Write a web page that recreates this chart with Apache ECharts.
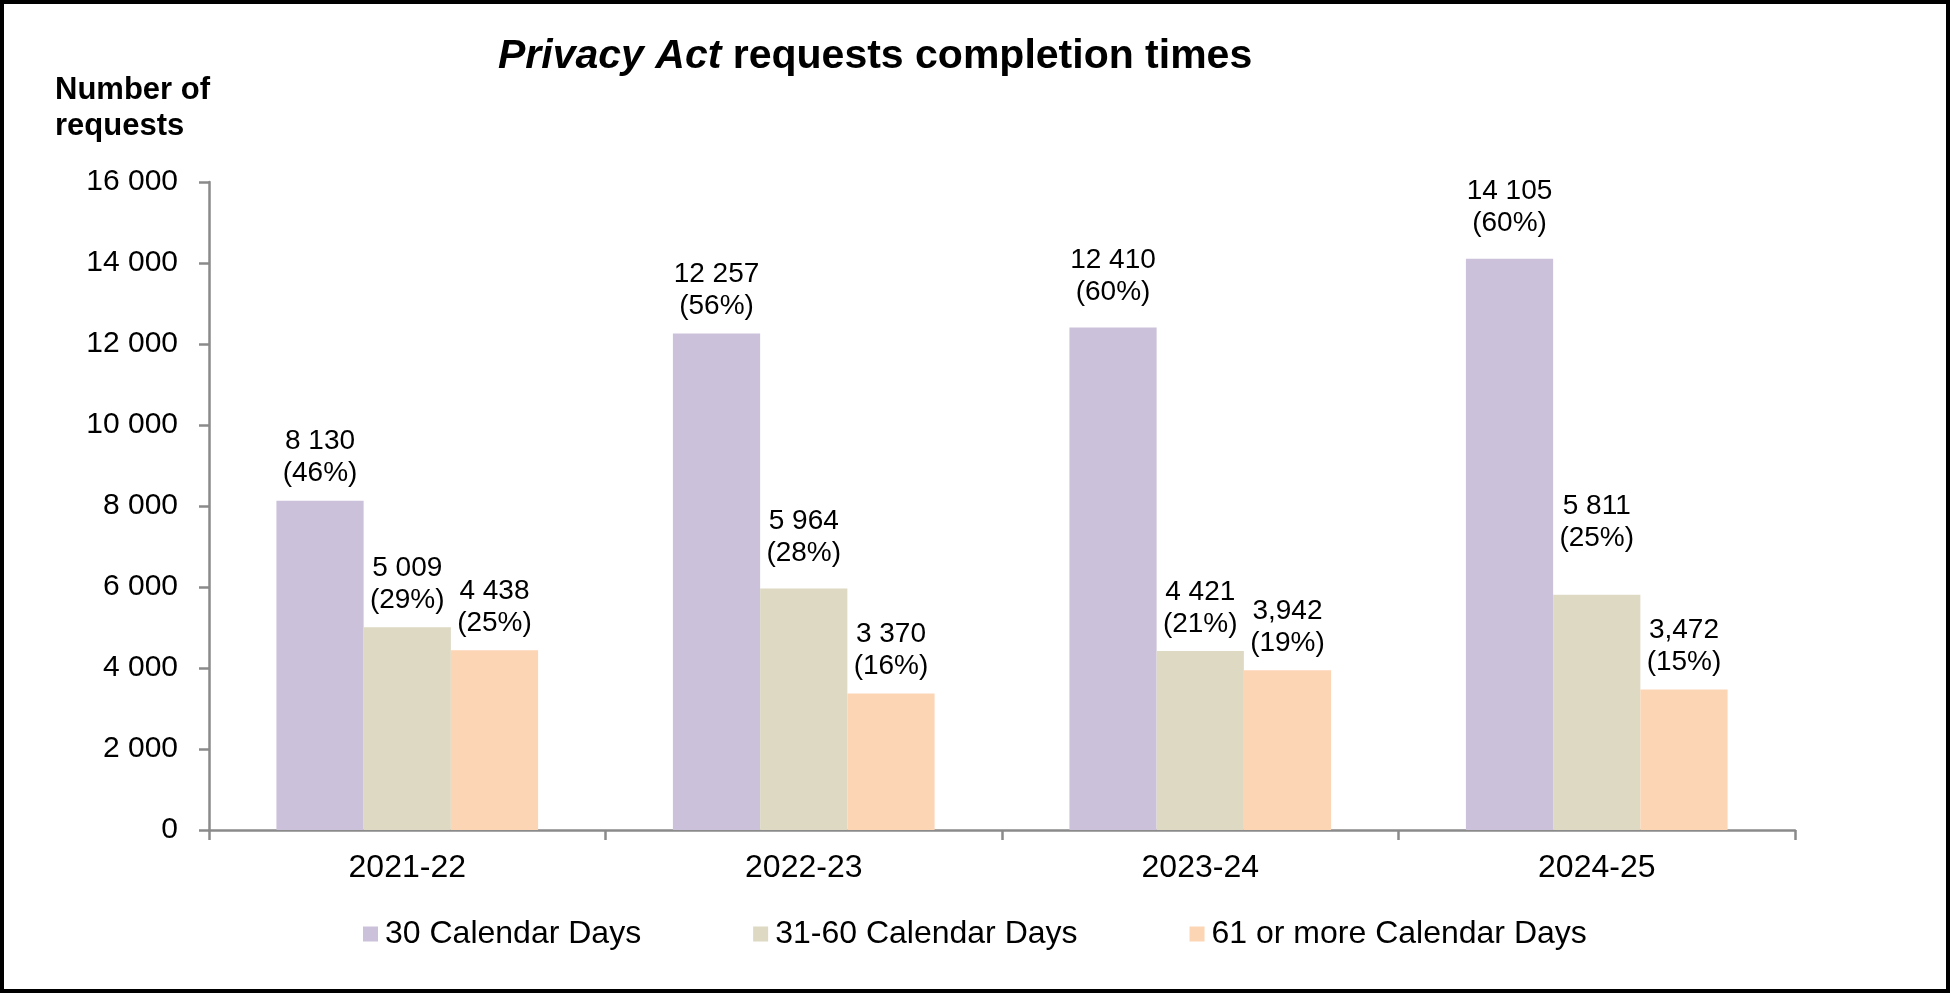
<!DOCTYPE html>
<html>
<head>
<meta charset="utf-8">
<title>Privacy Act requests completion times</title>
<script src="https://cdn.jsdelivr.net/npm/echarts@6/dist/echarts.min.js"></script>
<style>
  html, body { margin: 0; padding: 0; background: #fff; }
  #chart { width: 1950px; height: 993px; }
</style>
</head>
<body>
<div id="chart"></div>
<script>
// 数据
const years = ['2021-22', '2022-23', '2023-24', '2024-25'];
const seriesNames = ['30 Calendar Days', '31-60 Calendar Days', '61 or more Calendar Days'];
const days30 = [8130, 12257, 12410, 14105];
const days31to60 = [5009, 5964, 4421, 5811];
const days61plus = [4438, 3370, 3942, 3472];
const pct30 = [46, 56, 60, 60];
const pct31to60 = [29, 28, 21, 25];
const pct61plus = [25, 16, 19, 15];
// the source writes two of the numbers with a comma
const commaStyle61 = [false, false, true, true];
const yTicks = { min: 0, max: 16000, interval: 2000 };

// 标签与柱子的距离（样式）
const gap30 = [11, 11, 19, 19];
const gap31to60 = [11, 19, 11, 40];
const gap61plus = [11, 11, 11, 11];

const colors = ['#CCC1DA', '#DDD9C3', '#FCD5B5'];
const FONT = '"Liberation Sans", Arial, sans-serif';
const axisGrey = '#8a8a8a';

function fmtNum(v, comma) {
    const s = String(v);
    return s.replace(/\B(?=(\d{3})+(?!\d))/g, comma ? ',' : ' ');
}

function buildData(values, pcts, gaps, commas) {
    return values.map((v, i) => ({
        value: v,
        label: {
            distance: gaps[i],
            formatter: fmtNum(v, commas && commas[i]) + '\n(' + pcts[i] + '%)'
        }
    }));
}

function barSeries(name, values, pcts, gaps, color, commas) {
    return {
        name: name,
        type: 'bar',
        barGap: '0%',
        barCategoryGap: '34%',
        itemStyle: { color: color },
        label: {
            show: true,
            position: 'top',
            color: '#000',
            fontFamily: FONT,
            fontSize: 28,
            lineHeight: 32,
            align: 'center'
        },
        data: buildData(values, pcts, gaps, commas)
    };
}

let myChart = echarts.init(document.getElementById('chart'));

const option = {
    animation: false,
    textStyle: { fontFamily: FONT },
    title: {
        text: '{i|Privacy Act }{b|requests completion times}',
        left: 498,
        top: 36,
        padding: 0,
        textStyle: {
            rich: {
                i: { fontFamily: FONT, fontSize: 41, fontWeight: 'bold', fontStyle: 'italic', color: '#000' },
                b: { fontFamily: FONT, fontSize: 41, fontWeight: 'bold', color: '#000' }
            }
        }
    },
    graphic: [
        {
            type: 'rect',
            shape: { x: 2, y: 2, width: 1946, height: 989 },
            style: { fill: 'none', stroke: '#000', lineWidth: 4 },
            silent: true
        },
        {
            type: 'text',
            left: 55,
            top: 72,
            style: {
                text: 'Number of\nrequests',
                font: 'bold 31px ' + FONT,
                lineHeight: 36,
                fill: '#000'
            }
        }
    ],
    legend: {
        data: seriesNames,
        left: 363,
        top: 918,
        padding: 0,
        itemWidth: 15,
        itemHeight: 15,
        itemGap: 112,
        icon: 'rect',
        textStyle: { fontFamily: FONT, fontSize: 32, color: '#000', padding: [0, 0, 0, 2] }
    },
    grid: {
        left: 209,
        right: 155,
        top: 182,
        bottom: 163
    },
    xAxis: {
        type: 'category',
        data: years,
        axisLine: { lineStyle: { color: axisGrey, width: 2.5 } },
        axisTick: { show: true, length: 10, lineStyle: { color: axisGrey, width: 2.5 } },
        axisLabel: { color: '#000', fontSize: 32, margin: 22, fontFamily: FONT }
    },
    yAxis: {
        type: 'value',
        min: yTicks.min,
        max: yTicks.max,
        interval: yTicks.interval,
        splitLine: { show: false },
        axisLine: { show: true, lineStyle: { color: axisGrey, width: 2.5 } },
        axisTick: { show: true, length: 10, lineStyle: { color: axisGrey, width: 2.5 } },
        axisLabel: {
            color: '#000',
            fontSize: 30,
            margin: 31,
            fontFamily: FONT,
            formatter: v => fmtNum(v, false)
        }
    },
    series: [
        barSeries(seriesNames[0], days30, pct30, gap30, colors[0]),
        barSeries(seriesNames[1], days31to60, pct31to60, gap31to60, colors[1]),
        barSeries(seriesNames[2], days61plus, pct61plus, gap61plus, colors[2], commaStyle61)
    ]
};

myChart.setOption(option);
</script>
</body>
</html>
